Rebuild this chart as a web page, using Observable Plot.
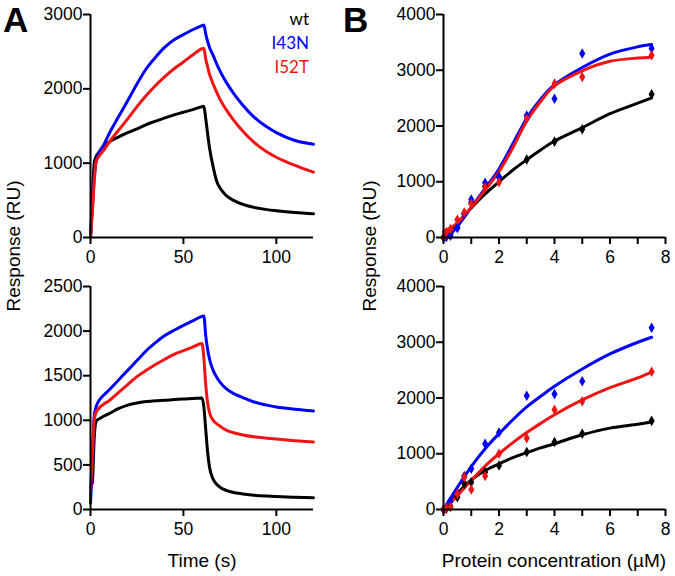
<!DOCTYPE html>
<html><head><meta charset="utf-8">
<script src="https://cdn.jsdelivr.net/npm/d3@7"></script>
<script src="https://cdn.jsdelivr.net/npm/@observablehq/plot@0.6"></script>
<style>
body{margin:0;background:#fff;}
#fig{position:relative;width:675px;height:576px;overflow:hidden;}
#fig > svg{position:absolute;}
</style></head><body><div id="fig"></div>
<script>
// ---- series ----
const seriesNames = ["wt", "I43N", "I52T"];
const seriesColors = ["#000000", "#0000ff", "#f01414"];

// ---- Panel A (sensorgrams): time (s) ----
const timeS = [0,1,2,3,4,5,7,10,15,20,25,30,35,40,45,50,55,60,61,62,63,64,66,68,70,73,77,82,88,95,100,110,120];
// top
const aTopWt   = [0,550,1000,1090,1130,1160,1215,1285,1350,1410,1460,1520,1565,1610,1650,1685,1720,1760,1765,1600,1400,1215,950,750,655,565,500,445,405,375,360,335,318];
const aTopI43N = [0,400,800,1020,1100,1160,1240,1395,1620,1840,2065,2270,2425,2560,2660,2730,2795,2850,2860,2740,2640,2560,2450,2330,2225,2090,1940,1780,1620,1485,1410,1305,1255];
const aTopI52T = [0,350,750,1020,1070,1110,1170,1280,1440,1595,1760,1910,2045,2165,2270,2360,2455,2540,2545,2400,2300,2200,2065,1950,1845,1720,1580,1430,1280,1150,1080,970,880];
// bottom
const aBotWt   = [250,300,800,990,1010,1020,1045,1075,1130,1170,1195,1210,1220,1225,1232,1238,1244,1250,1150,900,650,480,340,280,245,215,190,175,160,150,145,137,131];
const aBotI43N = [70,500,1050,1150,1200,1235,1280,1340,1450,1560,1670,1780,1870,1950,2010,2065,2115,2165,2170,1950,1800,1690,1560,1480,1420,1355,1300,1255,1205,1170,1150,1125,1105];
const aBotI52T = [180,600,1000,1090,1120,1145,1180,1220,1310,1400,1490,1560,1625,1685,1740,1780,1820,1860,1700,1400,1200,1090,1000,960,930,890,860,835,815,800,790,772,757];

// ---- Panel B (binding): protein concentration (µM) ----
const concPts = [0,0.1,0.25,0.5,0.75,1,1.5,2,3,4,5,7.5];
const bTopPtWt   = [0,20,60,180,420,630,920,1090,1400,1720,1940,2570];
const bTopPtI43N = [0,10,30,170,420,680,980,1080,2190,2490,3300,3390];
const bTopPtI52T = [0,100,150,320,450,600,900,990,2130,2760,2880,3270];
const bBotPtWt   = [0,10,60,220,460,490,670,790,1030,1210,1360,1590];
const bBotPtI43N = [0,30,150,300,600,730,1180,1380,2040,2070,2300,3260];
const bBotPtI52T = [0,20,40,280,580,360,600,1000,1280,1790,1940,2470];

const concFit = [0,0.25,0.5,1,1.5,2,2.5,3,3.5,4,5,6,7,7.5];
const bTopFitWt   = [0,130,260,530,780,1000,1210,1395,1570,1730,1970,2220,2410,2505];
const bTopFitI43N = [0,60,200,540,880,1230,1680,2140,2480,2740,3050,3290,3420,3460];
const bTopFitI52T = [100,170,260,540,850,1180,1610,2090,2440,2720,2990,3160,3220,3235];
const bBotFitWt   = [0,150,290,530,700,820,930,1020,1105,1180,1340,1460,1530,1570];
const bBotFitI43N = [0,200,400,770,1090,1360,1610,1840,2030,2210,2520,2790,3000,3090];
const bBotFitI52T = [0,120,250,520,780,1000,1200,1380,1545,1700,1965,2185,2360,2465];

// ---- tick labels ----
const aXTicks = [0, 50, 100];
const aTopYTicks = [0, 1000, 2000, 3000];
const aBotYTicks = [0, 500, 1000, 1500, 2000, 2500];
const bXTicks = [0, 2, 4, 6, 8];
const bXMinor = [1, 3, 5, 7];
const bYTicks = [0, 1000, 2000, 3000, 4000];

function toRows(xs, arrays) {
  return arrays.flatMap((arr, i) => xs.map((x, j) => ({x, y: arr[j], s: seriesNames[i]})));
}

const fig = document.getElementById("fig");
const fmt = d3.format("d");

function panel({left, top, width, height, ml, mr, mt, mb, xDomain, yDomain, xTicks, yTicks, minor, lines, pts, curve}) {
  const marks = [
    Plot.line(lines, {x: "x", y: "y", z: "s", stroke: "s", strokeWidth: 3, curve}),
  ];
  if (pts) marks.push(Plot.dot(pts, {x: "x", y: "y", fill: "s", symbol: "diamond", r: 3.2}));
  marks.push(
    Plot.ruleX([0], {stroke: "black", strokeWidth: 2}),
    Plot.ruleY([0], {stroke: "black", strokeWidth: 2}),
    Plot.axisY(yTicks, {tickSize: 7, tickPadding: 1, strokeWidth: 2, tickFormat: fmt, label: null, fontSize: 17.5}),
    Plot.axisX(xTicks, {tickSize: 7, tickPadding: 6, strokeWidth: 2, tickFormat: fmt, label: null, fontSize: 17.5})
  );
  if (minor) marks.push(Plot.axisX(minor, {tickSize: 7, strokeWidth: 2, tickFormat: () => "", label: null}));
  const p = Plot.plot({
    width, height, marginLeft: ml, marginRight: mr, marginTop: mt, marginBottom: mb,
    x: {domain: xDomain},
    y: {domain: yDomain},
    color: {domain: seriesNames, range: seriesColors},
    style: {fontFamily: "'Liberation Sans', Arial, sans-serif", fontSize: "17.5px", background: "transparent", overflow: "visible", color: "black"},
    marks
  });
  p.style.left = left + "px";
  p.style.top = top + "px";
  fig.appendChild(p);
}

panel({left: 0, top: 0, width: 340, height: 272, ml: 90, mr: 27, mt: 14, mb: 35,
  xDomain: [0, 120], yDomain: [0, 3000], xTicks: aXTicks, yTicks: aTopYTicks, curve: "monotone-x",
  lines: toRows(timeS, [aTopWt, aTopI43N, aTopI52T])});
panel({left: 0, top: 272, width: 340, height: 275, ml: 90, mr: 27, mt: 14, mb: 38,
  xDomain: [0, 120], yDomain: [0, 2500], xTicks: aXTicks, yTicks: aBotYTicks, curve: "monotone-x",
  lines: toRows(timeS, [aBotWt, aBotI43N, aBotI52T])});
panel({left: 340, top: 0, width: 335, height: 272, ml: 103, mr: 10, mt: 14, mb: 35,
  xDomain: [0, 8], yDomain: [0, 4000], xTicks: bXTicks, yTicks: bYTicks, minor: bXMinor, curve: "catmull-rom",
  lines: toRows(concFit, [bTopFitWt, bTopFitI43N, bTopFitI52T]),
  pts: toRows(concPts, [bTopPtWt, bTopPtI43N, bTopPtI52T])});
panel({left: 340, top: 272, width: 335, height: 275, ml: 103, mr: 10, mt: 14, mb: 38,
  xDomain: [0, 8], yDomain: [0, 4000], xTicks: bXTicks, yTicks: bYTicks, minor: bXMinor, curve: "catmull-rom",
  lines: toRows(concFit, [bBotFitWt, bBotFitI43N, bBotFitI52T]),
  pts: toRows(concPts, [bBotPtWt, bBotPtI43N, bBotPtI52T])});

// ---- overlay texts ----
const ov = d3.select(fig).append("svg")
  .attr("width", 675).attr("height", 576)
  .style("left", "0px").style("top", "0px").style("pointer-events", "none")
  .style("font-family", "'Liberation Sans', Arial, sans-serif");

ov.append("text").attr("x", 3).attr("y", 32).attr("font-size", 35).attr("font-weight", "bold").text("A");
ov.append("text").attr("x", 343).attr("y", 32).attr("font-size", 35).attr("font-weight", "bold").text("B");

[[20, 246], [376, 246]].forEach(([x, y]) => {
  ov.append("text").attr("transform", `translate(${x},${y}) rotate(-90)`)
    .attr("text-anchor", "middle").attr("font-size", 19).text("Response (RU)");
});
ov.append("text").attr("x", 202).attr("y", 567).attr("text-anchor", "middle").attr("font-size", 19).text("Time (s)");
ov.append("text").attr("x", 554).attr("y", 567).attr("text-anchor", "middle").attr("font-size", 19).text("Protein concentration (µM)");

seriesNames.forEach((n, i) => {
  ov.append("text").attr("x", 309).attr("y", 25 + i * 24).attr("text-anchor", "end")
    .attr("font-family", "Lato, 'Open Sans', sans-serif").attr("font-size", 17)
    .attr("fill", seriesColors[i]).text(n);
});
</script></body></html>
